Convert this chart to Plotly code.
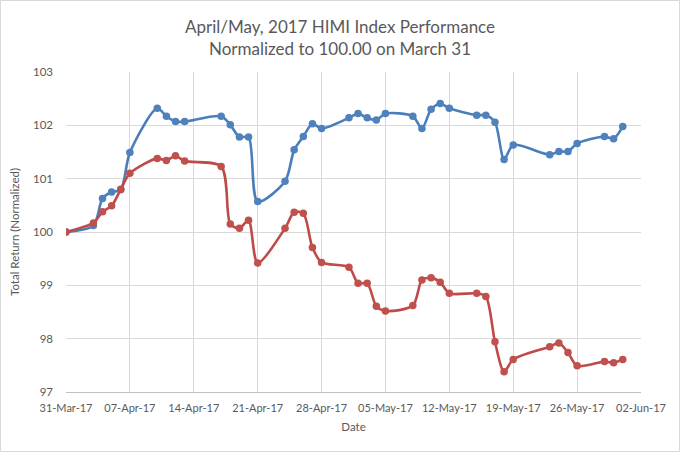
import plotly.graph_objects as go

dates = ["2017-03-31", "2017-04-03", "2017-04-04", "2017-04-05", "2017-04-06", "2017-04-07",
         "2017-04-10", "2017-04-11", "2017-04-12", "2017-04-13", "2017-04-17", "2017-04-18",
         "2017-04-19", "2017-04-20", "2017-04-21", "2017-04-24", "2017-04-25", "2017-04-26",
         "2017-04-27", "2017-04-28", "2017-05-01", "2017-05-02", "2017-05-03", "2017-05-04",
         "2017-05-05", "2017-05-08", "2017-05-09", "2017-05-10", "2017-05-11", "2017-05-12",
         "2017-05-15", "2017-05-16", "2017-05-17", "2017-05-18", "2017-05-19", "2017-05-23",
         "2017-05-24", "2017-05-25", "2017-05-26", "2017-05-29", "2017-05-30", "2017-05-31"]

blue_index = [100.00, 100.12, 100.63, 100.75, 100.79, 101.49, 102.32, 102.17, 102.07, 102.07,
              102.17, 102.01, 101.78, 101.78, 100.57, 100.95, 101.54, 101.79, 102.03, 101.94,
              102.14, 102.22, 102.14, 102.10, 102.22, 102.17, 101.94, 102.30, 102.41, 102.32,
              102.19, 102.19, 102.06, 101.36, 101.63, 101.45, 101.51, 101.51, 101.66, 101.79,
              101.75, 101.98]

red_index = [100.00, 100.17, 100.38, 100.49, 100.80, 101.10, 101.38, 101.34, 101.43, 101.33,
             101.23, 100.15, 100.07, 100.22, 99.42, 100.07, 100.37, 100.35, 99.71, 99.43,
             99.34, 99.04, 99.04, 98.61, 98.52, 98.62, 99.10, 99.14, 99.06, 98.85,
             98.85, 98.79, 97.94, 97.38, 97.61, 97.85, 97.92, 97.74, 97.49, 97.57,
             97.55, 97.61]

y_ticks = [97, 98, 99, 100, 101, 102, 103]

FONT = "Lato, 'Open Sans', sans-serif"
TXT = "#595959"

fig = go.Figure()
fig.add_trace(go.Scatter(
    x=dates, y=blue_index, mode="lines+markers",
    line=dict(color="#4A7EBB", width=2.6, shape="spline", smoothing=0.8),
    marker=dict(color="#4F81BD", size=7.5, line=dict(width=0)),
    name="Index A"))
fig.add_trace(go.Scatter(
    x=dates, y=red_index, mode="lines+markers",
    line=dict(color="#BE4B48", width=2.6, shape="spline", smoothing=0.8),
    marker=dict(color="#C0504D", size=7.5, line=dict(width=0)),
    name="Index B"))

fig.update_layout(
    width=680, height=452,
    margin=dict(l=66, r=39, t=72, b=60),
    paper_bgcolor="white", plot_bgcolor="white",
    showlegend=False,
    font=dict(family=FONT, color=TXT, size=12),
    title=dict(text="April/May, 2017 HIMI Index Performance<br>Normalized to 100.00 on March 31",
               x=0.5, xanchor="center", y=1 - 33 / 452, yanchor="middle",
               font=dict(family=FONT, size=17, color=TXT)),
    shapes=[dict(type="rect", xref="paper", yref="paper", x0=-65.5/575, x1=1+38.5/575,
                 y0=-59.5/320, y1=1+71.5/320, line=dict(color="#D9D9D9", width=1))],
)

fig.update_xaxes(
    type="date", range=["2017-03-31", "2017-06-02"],
    tick0="2017-03-31", dtick=7 * 24 * 3600 * 1000, tickformat="%d-%b-%y",
    showgrid=True, gridcolor="#D9D9D9", gridwidth=1,
    showline=True, linecolor="#BFBFBF", linewidth=1,
    ticks="", ticklabelstandoff=6, tickfont=dict(size=11, color=TXT),
    title=dict(text="Date", font=dict(size=11.5, color=TXT), standoff=9),
    zeroline=False, fixedrange=True,
)
fig.update_yaxes(
    range=[97, 103], tickvals=y_ticks,
    showgrid=True, gridcolor="#D9D9D9", gridwidth=1,
    showline=False, ticks="", ticklabelstandoff=12,
    tickfont=dict(size=11.5, color=TXT),
    title=dict(text="Total Return (Normalized)", font=dict(size=11.5, color=TXT), standoff=10),
    zeroline=False,
)

fig.write_html("out.html", config={"displayModeBar": False},
               post_script="document.body.style.margin='0';")
